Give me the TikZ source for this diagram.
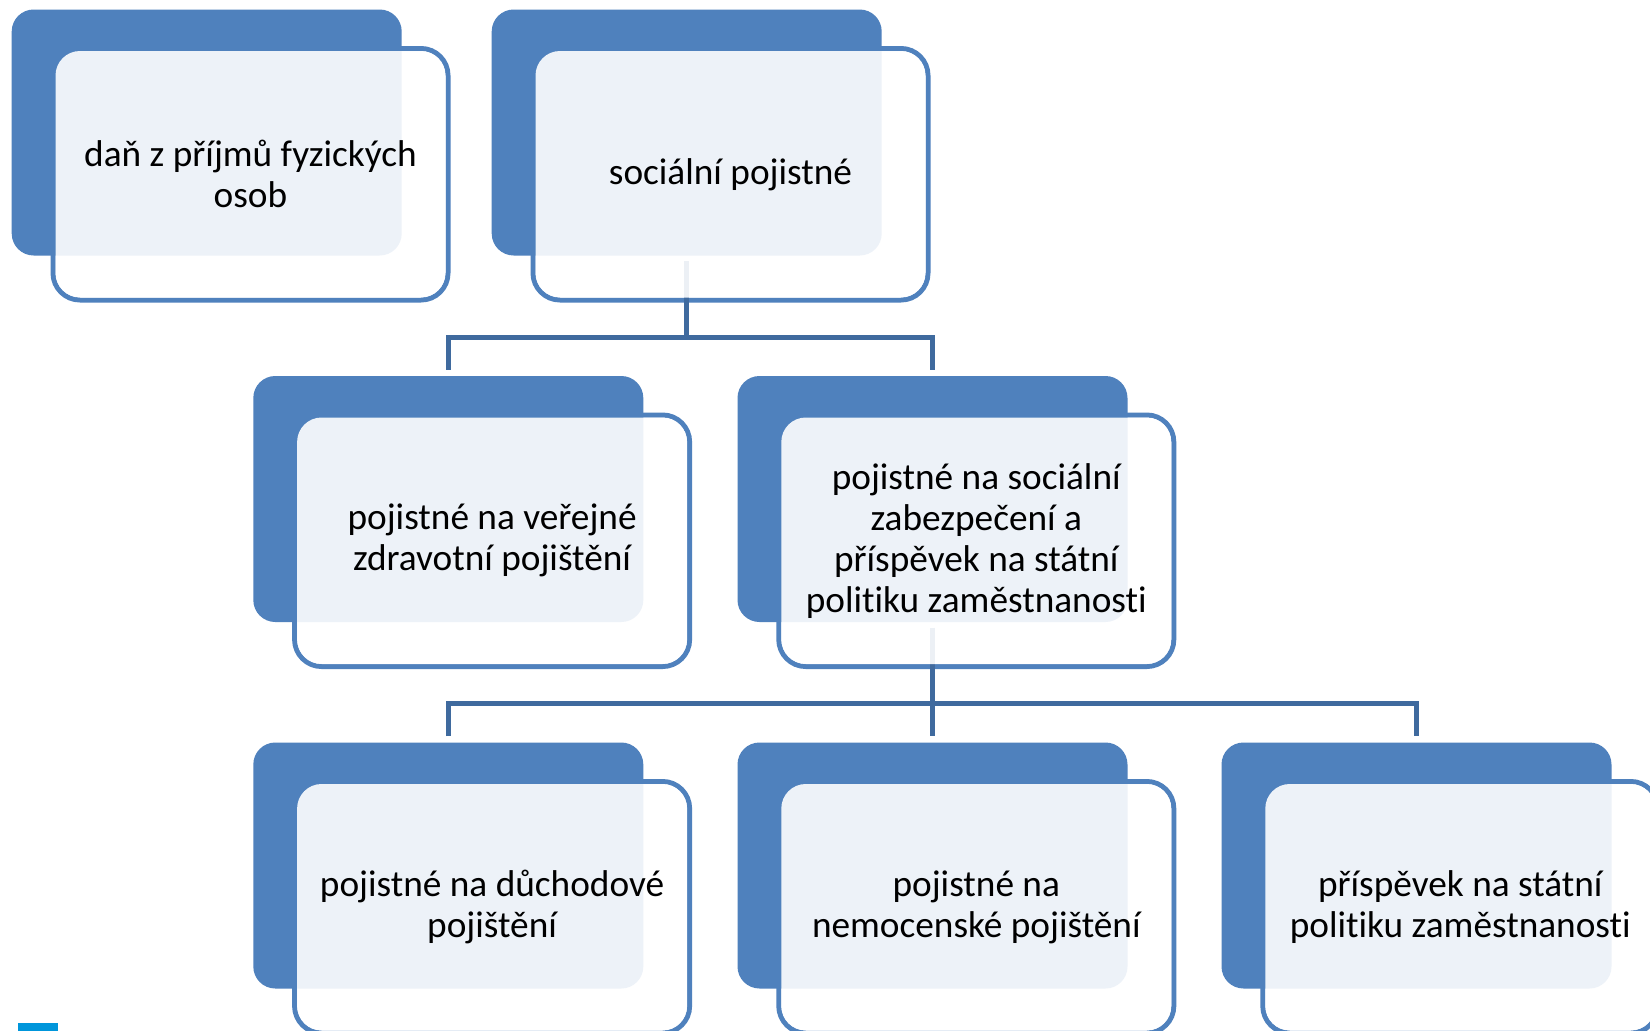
\documentclass[tikz,border=0pt]{standalone}
\usepackage{fontspec}
\setmainfont{Carlito}[Ligatures=NoCommon]
\usetikzlibrary{calc}
\definecolor{accent}{HTML}{4F81BD}
\definecolor{connc}{HTML}{3F6A9E}
\definecolor{tickc}{HTML}{0096DB}
\begin{document}
\begin{tikzpicture}[x=1pt,y=-1pt,
  backbox/.style={rectangle, fill=accent, draw=none, rounded corners=22pt,
    minimum width=390pt, minimum height=246pt, inner sep=0pt, outer sep=0pt},
  frontline/.style={rectangle, draw=accent, line width=5pt, rounded corners=27pt,
    minimum width=395pt, minimum height=251.5pt, inner sep=0pt, outer sep=0pt},
  boxtext/.style={align=center, font=\fontsize{37.3}{41}\selectfont, text=black, inner sep=0pt},
  conn/.style={draw=connc, line width=5pt, line cap=butt, line join=miter}]
\clip (0,0) rectangle (1650,1031);
\fill[white] (0,0) rectangle (1650,1031);
% front outlines
\node[frontline] (f1) at (250.5,174.25) {};
\node[frontline] (f2) at (730.5,174.25) {};
\node[frontline] (f3) at (492.1,540.75) {};
\node[frontline] (f4) at (976.3,540.75) {};
\node[frontline] (f5) at (492.1,907.25) {};
\node[frontline] (f6) at (976.3,907.25) {};
\node[frontline] (f7) at (1460.3,907.25) {};
% back boxes
\node[backbox] (b1) at (206.7,132.5) {};
\node[backbox] (b2) at (686.7,132.5) {};
\node[backbox] (b3) at (448.3,499) {};
\node[backbox] (b4) at (932.5,499) {};
\node[backbox] (b5) at (448.3,865.5) {};
\node[backbox] (b6) at (932.5,865.5) {};
\node[backbox] (b7) at (1416.5,865.5) {};
% connectors
\coordinate (j1) at ($(b2.south)+(0,81.5)$);
\draw[conn] ($(b2.south)+(0,5.5)$) -- (j1);
\draw[conn] ($(b3.north)+(0,-6.5)$) |- (j1) -| ($(b4.north)+(0,-6.5)$);
\coordinate (j2) at ($(b4.south)+(0,81.5)$);
\draw[conn] ($(b4.south)+(0,5.5)$) -- (j2);
\draw[conn] (j2) -- ($(b6.north)+(0,-6.5)$);
\draw[conn] ($(b5.north)+(0,-6.5)$) |- (j2) -| ($(b7.north)+(0,-6.5)$);
% translucent front fills
\foreach \f in {f1,f2,f3,f4,f5,f6,f7}
  \fill[white, fill opacity=0.9, rounded corners=24.5pt]
    ($(\f.north west)+(2.5,2.5)$) rectangle ($(\f.south east)+(-2.5,-2.5)$);
% texts
\node[boxtext] (t1) at (f1) {daň z příjmů fyzických\\osob};
\node[boxtext] (t2) at (f2) {sociální pojistné};
\node[boxtext] (t3) at (f3) {pojistné na veřejné\\zdravotní pojištění};
\node[boxtext] (t4) at (f4) {pojistné na sociální\\zabezpečení a\\příspěvek na státní\\politiku zaměstnanosti};
\node[boxtext] (t5) at (f5) {pojistné na důchodové\\pojištění};
\node[boxtext] (t6) at (f6) {pojistné na\\nemocenské pojištění};
\node[boxtext] (t7) at (f7) {příspěvek na státní\\politiku zaměstnanosti};
% small mark at bottom left
\fill[tickc] (18,1023) rectangle (58,1031);
\end{tikzpicture}
\end{document}
